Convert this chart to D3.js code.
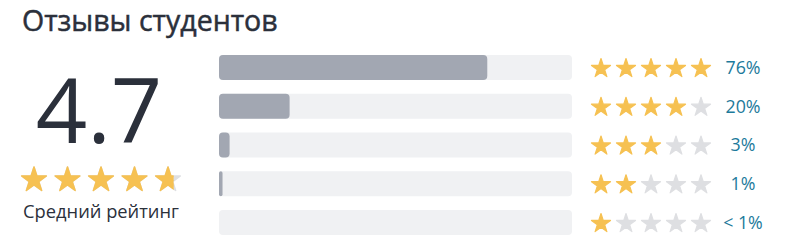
<!DOCTYPE html>
<html>
<head>
<meta charset="utf-8">
<script src="https://cdn.jsdelivr.net/npm/d3@7"></script>
<style>
  body { margin: 0; background: #fff; }
  svg { display: block; font-family: "Open Sans", "Noto Sans", sans-serif; }
</style>
</head>
<body>
<svg id="chart" width="789" height="246"></svg>
<script>
// ratings data
let ratingLevels = [5, 4, 3, 2, 1];
let ratingShares = [76, 20, 3, 1, 0];
let shareLabels = ['76%', '20%', '3%', '1%', '< 1%'];
let averageRating = 4.7;
let maxStars = 5;

let svg = d3.select('#chart');

let gold = '#f6c152';
let grey = '#dedfe2';

// title
svg.append('text')
  .attr('x', 22)
  .attr('y', 31)
  .attr('fill', '#2b303b')
  .attr('stroke', '#2b303b')
  .attr('stroke-width', 0.5)
  .style('font-size', '28.5px')
  .text('Отзывы студентов');

// big average number
svg.append('text')
  .attr('x', 99)
  .attr('y', 143)
  .attr('text-anchor', 'middle')
  .attr('fill', '#2b303b')
  .style('font-size', '90px')
  .text(averageRating.toFixed(1));

let starPath = (r) => d3.symbol(d3.symbolStar, r * r / 0.8908130915292852)();

// left stars with partial fill
let defs = svg.append('defs');
let leftX = d3.scaleLinear().domain([1, maxStars]).range([34, 168]);
let leftStars = svg.append('g').selectAll('g')
  .data(d3.range(1, maxStars + 1))
  .enter()
  .append('g')
  .attr('transform', (d) => 'translate(' + leftX(d) + ',180)');

leftStars.append('path')
  .attr('d', starPath(13))
  .attr('fill', grey)
  .attr('stroke', grey)
  .attr('stroke-width', 1.5)
  .attr('stroke-linejoin', 'round');

leftStars.each(function (d) {
  let part = Math.max(0, Math.min(1, averageRating - (d - 1)));
  let id = 'clip' + d;
  defs.append('clipPath').attr('id', id)
    .append('rect')
    .attr('x', -14)
    .attr('y', -15)
    .attr('width', 28 * part)
    .attr('height', 30);
  d3.select(this).append('path')
    .attr('d', starPath(13))
    .attr('fill', gold)
    .attr('stroke', gold)
    .attr('stroke-width', 1.5)
    .attr('stroke-linejoin', 'round')
    .attr('clip-path', 'url(#' + id + ')');
});

svg.append('text')
  .attr('x', 101)
  .attr('y', 218)
  .attr('text-anchor', 'middle')
  .attr('fill', '#2b303b')
  .style('font-size', '18.3px')
  .text('Средний рейтинг');

// bars
let x = d3.scaleLinear().domain([0, 100]).range([219, 572]);
let y = d3.scaleBand()
  .domain(ratingLevels)
  .range([55, 235])
  .paddingInner(0.355)
  .paddingOuter(0);

let rows = svg.append('g').selectAll('g')
  .data(ratingLevels.map((lvl, i) => ({ level: lvl, share: ratingShares[i], label: shareLabels[i] })))
  .enter()
  .append('g');

rows.append('rect')
  .attr('x', x(0))
  .attr('y', (d) => y(d.level))
  .attr('width', x(100) - x(0))
  .attr('height', y.bandwidth())
  .attr('rx', 4)
  .attr('fill', '#f0f1f3');

rows.append('rect')
  .attr('x', x(0))
  .attr('y', (d) => y(d.level))
  .attr('width', (d) => x(d.share) - x(0))
  .attr('height', y.bandwidth())
  .attr('rx', (d) => Math.min(4, (x(d.share) - x(0)) / 2))
  .attr('fill', '#a2a7b2');

// row stars
let starX = d3.scaleLinear().domain([1, maxStars]).range([601, 701]);
rows.each(function (row) {
  d3.select(this).selectAll('path')
    .data(d3.range(1, maxStars + 1))
    .enter()
    .append('path')
    .attr('transform', (s) => 'translate(' + starX(s) + ',' + (y(row.level) + y.bandwidth() / 2 + 1) + ')')
    .attr('d', starPath(10))
    .attr('fill', (s) => s <= row.level ? gold : grey)
    .attr('stroke', (s) => s <= row.level ? gold : grey)
    .attr('stroke-width', 1.2)
    .attr('stroke-linejoin', 'round');
});

rows.append('text')
  .attr('x', 743)
  .attr('y', (d) => y(d.level) + y.bandwidth() / 2)
  .attr('dy', '0.36em')
  .attr('text-anchor', 'middle')
  .attr('fill', '#1d7a9b')
  .style('font-size', '17.8px')
  .text((d) => d.label);
</script>
</body>
</html>
